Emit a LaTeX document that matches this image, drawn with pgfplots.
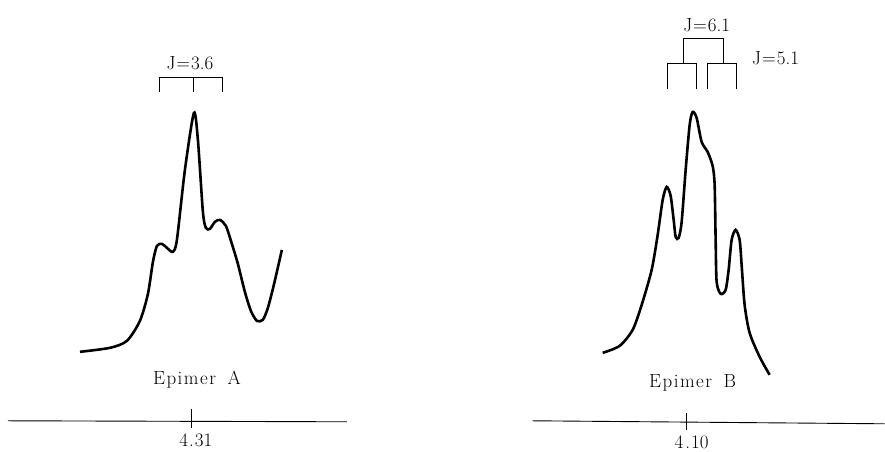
\documentclass[border=0pt]{standalone}
\usepackage{pgfplots}
\pgfplotsset{compat=1.18}
\begin{document}
\begin{tikzpicture}
\tikzset{lbl/.style={font=\fontsize{19}{21}\selectfont, inner sep=0pt}}
\begin{axis}[
  scale only axis, width=885pt, height=452pt,
  xmin=0, xmax=885, ymin=0, ymax=452, y dir=reverse,
  hide axis, clip=false,
]
\addplot[draw=none] coordinates {(0,0) (885,452)};
% Epimer A spectrum
\addplot[black, line width=2.6pt, smooth, tension=0.45] coordinates {
 (80,352) (110,348) (127,341) (140,321) (148,294) (153,262) (157,246)
 (162,244) (167,248) (173,252) (177,240) (185,170) (194,113)
 (198,140) (203,212) (206,228) (210,229) (215,222) (220,220) (226,226)
 (232,244) (238,264) (245,292) (251,311) (257,321) (263,320) (268,308)
 (274,285) (282,250)};
% Epimer B spectrum
\addplot[black, line width=2.6pt, smooth, tension=0.45] coordinates {
 (603,353) (620,346) (633,330) (642,305) (652,270) (658,235) (663,200)
 (667,187) (671,196) (674,220) (676,237) (679,238) (682,222) (686,170)
 (690,125) (693,112) (697,118) (702,142) (708,152) (713,166) (715,185)
 (716,240) (717,282) (721,294) (726,290) (729,270) (732,240) (736,230)
 (740,240) (742,265) (745,305) (750,333) (760,357) (770,375)};
% J brackets A
\addplot[black, line width=0.8pt] coordinates {(159,92) (159,77) (223,77) (223,92)};
\addplot[black, line width=0.8pt] coordinates {(193,77) (193,92)};
% J brackets B
\addplot[black, line width=0.8pt] coordinates {(684,63) (684,38) (724,38) (724,63)};
\addplot[black, line width=0.8pt] coordinates {(668,89) (668,63) (697,63) (697,89)};
\addplot[black, line width=0.8pt] coordinates {(708,89) (708,63) (737,63) (737,89)};
% baselines
\addplot[black, line width=0.9pt] coordinates {(8,421) (347,422)};
\addplot[black, line width=0.9pt] coordinates {(192,409) (192,428)};
\addplot[black, line width=0.9pt] coordinates {(533,421) (885,424)};
\addplot[black, line width=0.9pt] coordinates {(687,413) (687,430)};
% texts
\node[lbl] at (axis cs:190,63) {J\kern1pt{=}\kern1pt3.6};
\node[lbl] at (axis cs:707,25) {J\kern1pt{=}\kern1pt6.1};
\node[lbl] at (axis cs:776,58) {J\kern1pt{=}\kern1pt5.1};
\node[lbl] at (axis cs:197,380) {E\kern1.5pt p\kern1.5pt i\kern1.5pt m\kern1.5pt e\kern1.5pt r\ \ A};
\node[lbl] at (axis cs:693,383) {E\kern1.5pt p\kern1.5pt i\kern1.5pt m\kern1.5pt e\kern1.5pt r\ \ B};
\node[lbl] at (axis cs:196,441) {4\kern1pt.\kern1pt31};
\node[lbl] at (axis cs:692,443) {4\kern2pt.\kern1pt10};
\end{axis}
\end{tikzpicture}
\end{document}
